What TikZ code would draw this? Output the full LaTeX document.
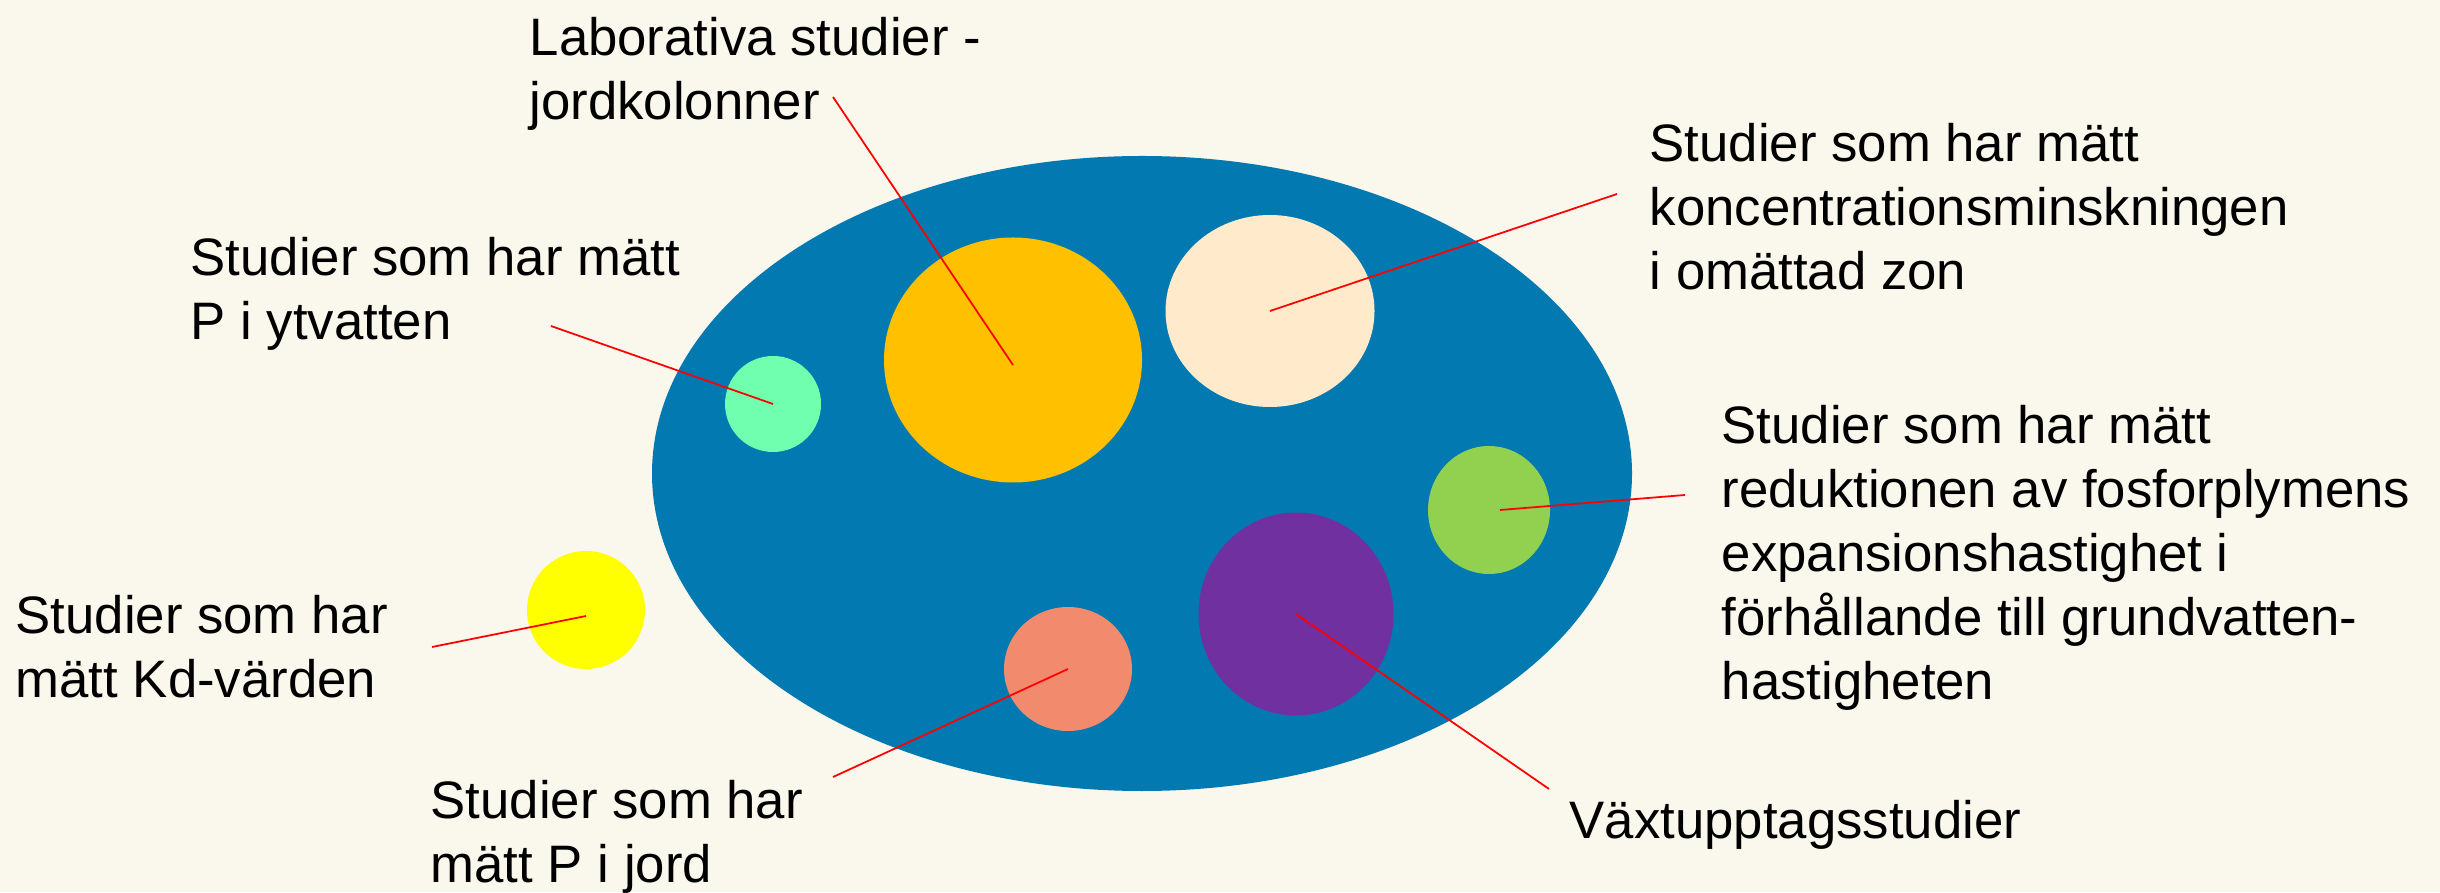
\documentclass[tikz,border=0pt]{standalone}
\usepackage{fontspec}
\setmainfont{Liberation Sans}
\usetikzlibrary{shapes.geometric}
\definecolor{bg}{RGB}{250,247,236}
\definecolor{sea}{RGB}{2,121,176}
\definecolor{mint}{RGB}{112,255,174}
\definecolor{gold}{RGB}{255,192,0}
\definecolor{sand}{RGB}{255,234,204}
\definecolor{leaf}{RGB}{146,208,80}
\definecolor{plum}{RGB}{112,48,160}
\definecolor{salmon}{RGB}{242,138,110}
\definecolor{lemon}{RGB}{255,255,0}
\definecolor{leadred}{RGB}{255,0,0}
\begin{document}
\begin{tikzpicture}[
  blob/.style={ellipse, inner sep=0pt, draw=none},
  lbl/.style={anchor=north west, inner sep=0pt, align=left, font=\fontsize{15}{18.2}\selectfont},
  lead/.style={draw=leadred, line width=0.5pt}]
\fill[bg] (0,0) rectangle (24.4,8.92);
\useasboundingbox (0,0) rectangle (24.4,8.92);
% the big ellipse and the study groups
\node[blob, fill=sea, minimum width=9.8cm, minimum height=6.35cm] (pond) at (11.42,4.185) {};
\node[blob, fill=mint, minimum width=0.96cm, minimum height=0.96cm] (yta) at (7.73,4.88) {};
\node[blob, fill=gold, minimum width=2.58cm, minimum height=2.45cm] (lab) at (10.13,5.32) {};
\node[blob, fill=sand, minimum width=2.09cm, minimum height=1.92cm] (konc) at (12.70,5.81) {};
\node[blob, fill=leaf, minimum width=1.22cm, minimum height=1.28cm] (plym) at (14.89,3.82) {};
\node[blob, fill=plum, minimum width=1.95cm, minimum height=2.03cm] (vaxt) at (12.96,2.78) {};
\node[blob, fill=salmon, minimum width=1.28cm, minimum height=1.24cm] (jord) at (10.68,2.23) {};
\node[blob, fill=lemon, minimum width=1.18cm, minimum height=1.18cm] (kd) at (5.86,2.82) {};
% labels
\node[lbl] (labtxt) at (5.29,8.75) {Laborativa studier -\\jordkolonner};
\node[lbl] (ytatxt) at (1.90,6.55) {Studier som har mätt\\P i ytvatten};
\node[lbl] (konctxt) at (16.49,7.69) {Studier som har mätt\\koncentrationsminskningen\\i omättad zon};
\node[lbl] (plymtxt) at (17.21,4.87) {Studier som har mätt\\reduktionen av fosforplymens\\expansionshastighet i\\förhållande till grundvatten-\\hastigheten};
\node[lbl] (kdtxt) at (0.15,2.97) {Studier som har\\mätt Kd-värden};
\node[lbl] (jordtxt) at (4.30,1.12) {Studier som har\\mätt P i jord};
\node[lbl] (vaxttxt) at (15.69,0.92) {Växtupptagsstudier};
% leader lines
\coordinate (labend) at (8.33,7.95);
\coordinate (ytaend) at (5.51,5.66);
\coordinate (koncend) at (16.17,6.98);
\coordinate (plymend) at (16.85,3.97);
\coordinate (kdend) at (4.32,2.45);
\coordinate (jordend) at (8.33,1.15);
\coordinate (vaxtend) at (15.49,1.03);
\draw[lead] (labend) -- ([yshift=-0.05cm]lab.center);
\draw[lead] (ytaend) -- (yta.center);
\draw[lead] (koncend) -- (konc.center);
\draw[lead] (plymend) -- ([xshift=0.11cm]plym.center);
\draw[lead] (kdend) -- ([yshift=-0.06cm]kd.center);
\draw[lead] (jordend) -- (jord.center);
\draw[lead] (vaxtend) -- (vaxt.center);
\end{tikzpicture}
\end{document}
